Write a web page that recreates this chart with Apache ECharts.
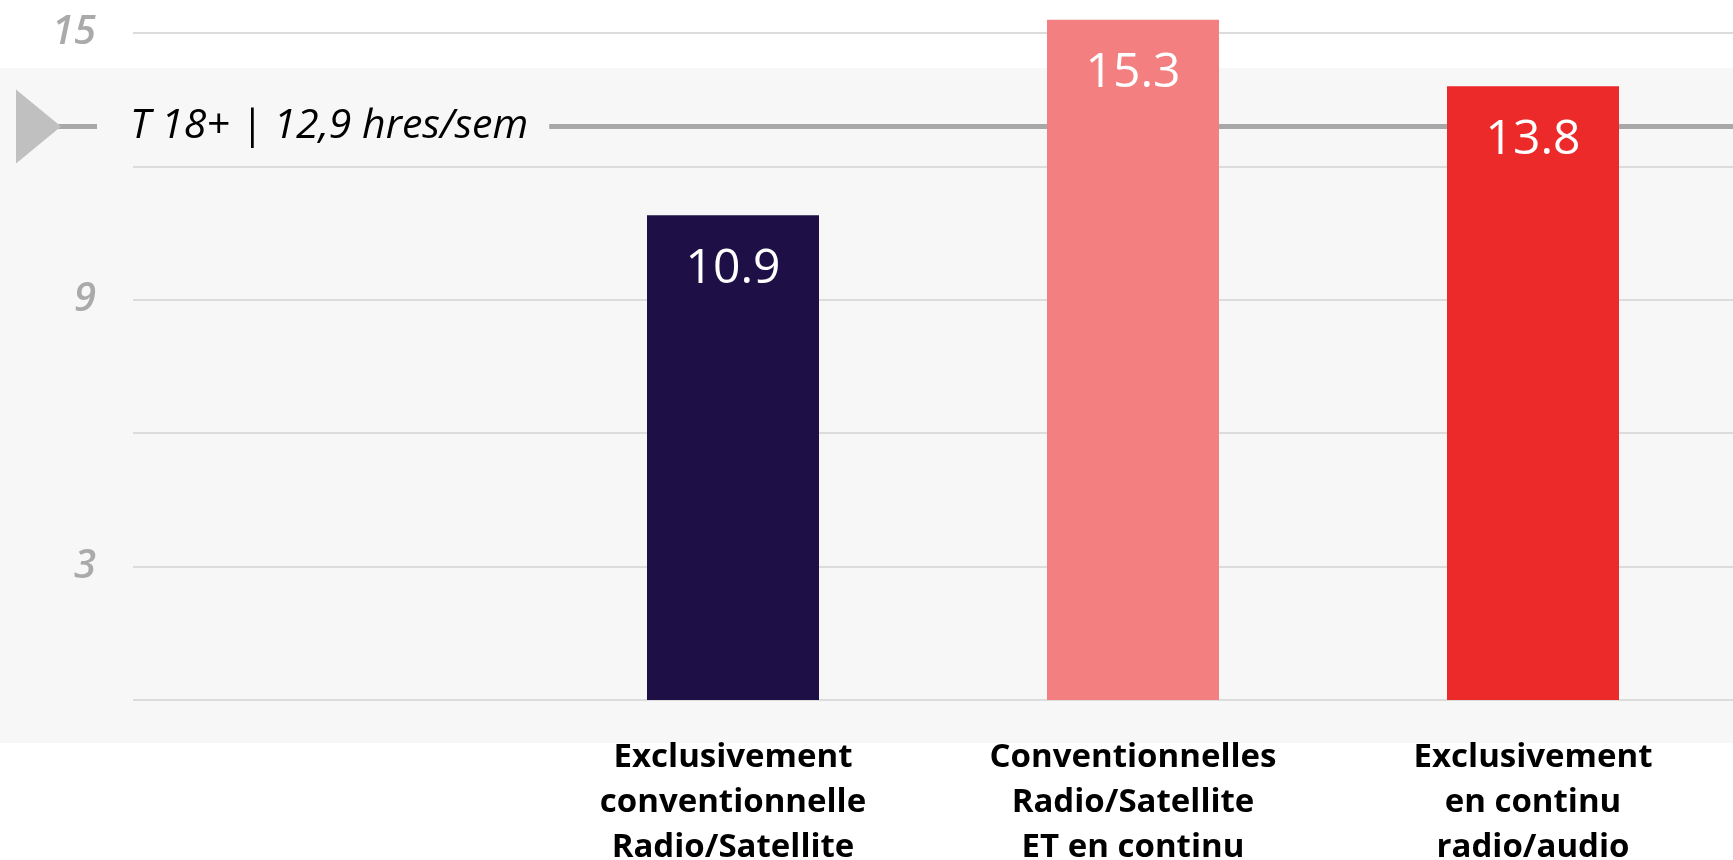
<!DOCTYPE html>
<html>
<head>
<meta charset="utf-8">
<script src="https://cdn.jsdelivr.net/npm/echarts@6/dist/echarts.min.js"></script>
<style>
  html, body { margin: 0; padding: 0; background: #ffffff; }
  #chart { width: 1733px; height: 860px; }
</style>
</head>
<body>
<div id="chart"></div>
<script>
// Weekly listening hours by audio platform group
const categories = [
  '',
  'Exclusivement\nconventionnelle\nRadio/Satellite',
  'Conventionnelles\nRadio/Satellite\nET en continu',
  'Exclusivement\nen continu\nradio/audio'
];
const hours = [null, 10.9, 15.3, 13.8];
const barColors = ['#1e1046', '#1e1046', '#f47f80', '#ec2a2a'];
const yTickLabels = ['3', '9', '15'];
const benchmarkValue = [12.9];
const benchmarkLabel = ['T 18+ | 12,9 hres/sem'];

const FONT = '"Open Sans", "Noto Sans", sans-serif';
const chart = echarts.init(document.getElementById('chart'), null, { renderer: 'canvas' });

const option = {
  backgroundColor: '#ffffff',
  animation: false,
  grid: { left: 133, right: 0, top: 33, bottom: 160, containLabel: false, outerBoundsMode: 'none' },
  xAxis: {
    type: 'category',
    data: categories,
    axisLine: { show: false },
    axisTick: { show: false },
    axisLabel: {
      color: '#000000',
      fontFamily: FONT,
      fontWeight: 'bold',
      fontSize: 33,
      lineHeight: 45,
      margin: 35,
      interval: 0
    }
  },
  yAxis: {
    type: 'value',
    min: 0,
    max: 15,
    interval: 3,
    axisLine: { show: false },
    axisTick: { show: false },
    splitLine: { lineStyle: { color: '#dcdcdc', width: 2 } },
    axisLabel: {
      margin: 37,
      color: '#aaaaaa',
      fontFamily: FONT,
      fontStyle: 'italic',
      fontWeight: 600,
      fontSize: 40,
      formatter: v => (yTickLabels.includes(String(v)) ? String(v) : '')
    }
  },
  series: [{
    type: 'bar',
    barWidth: 172,
    clip: false,
    z: 3,
    data: hours.map((v, i) => ({ value: v, itemStyle: { color: barColors[i] } })),
    label: {
      show: true,
      position: 'insideTop',
      distance: 30,
      color: '#ffffff',
      fontFamily: FONT,
      fontWeight: 500,
      fontSize: 48,
      formatter: p => (p.value == null ? '' : p.value.toFixed(1))
    }
  }]
};
chart.setOption(option);

// Background band, benchmark line with its marker and caption
function drawBenchmark() {
  const y = chart.convertToPixel({ yAxisIndex: 0 }, benchmarkValue[0]);
  const W = chart.getWidth();
  chart.setOption({
    graphic: [
      {
        type: 'rect', z: -5, silent: true,
        shape: { x: 0, y: 68, width: W, height: 675 },
        style: { fill: '#f7f7f7' }
      },
      {
        type: 'line', z: 1, silent: true,
        shape: { x1: 58, y1: y, x2: W, y2: y },
        style: { stroke: '#a8a8a8', lineWidth: 5 }
      },
      {
        type: 'polygon', z: 2, silent: true,
        shape: { points: [[16, y - 37], [61, y], [16, y + 37]] },
        style: { fill: '#c0c0c0' }
      },
      {
        type: 'text', z: 2, silent: true,
        x: 97, y: y,
        style: {
          text: benchmarkLabel[0],
          fill: '#000000',
          font: 'italic 41px ' + FONT,
          backgroundColor: '#f7f7f7',
          padding: [4, 21, 4, 33],
          verticalAlign: 'middle',
          align: 'left'
        }
      }
    ]
  });
}
drawBenchmark();
</script>
</body>
</html>
